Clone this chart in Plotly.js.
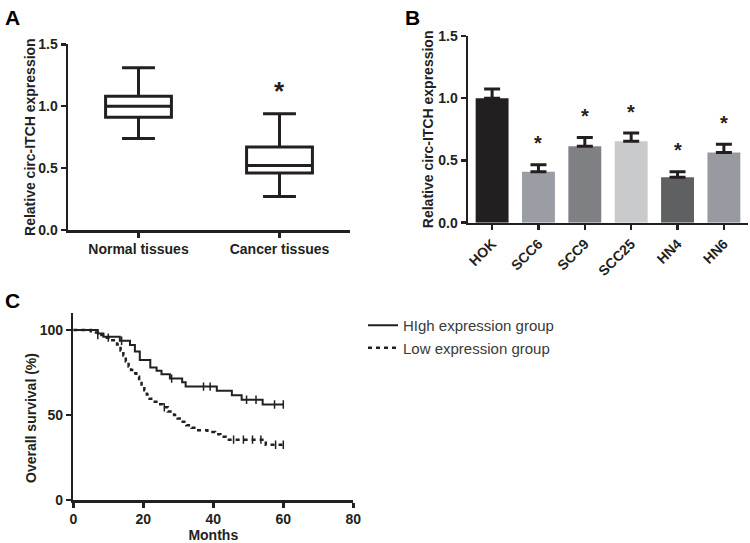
<!DOCTYPE html>
<html>
<head>
<meta charset="utf-8">
<script src="https://cdn.plot.ly/plotly-3.0.1.min.js"></script>
<style>html,body{margin:0;padding:0;background:#fff;}#chart{width:750px;height:543px;}</style>
</head>
<body>
<div id="chart"></div>
<script>
// ---- Panel A: box plot summary values ----
const boxCategories = ["Normal tissues", "Cancer tissues"];
const boxLowerFence = [0.74, 0.27];
const boxQ1 = [0.91, 0.46];
const boxMedian = [1.00, 0.52];
const boxQ3 = [1.08, 0.67];
const boxUpperFence = [1.31, 0.94];
const boxStarY = [null, 1.145];

// ---- Panel B: bar chart ----
const cellLines = ["HOK", "SCC6", "SCC9", "SCC25", "HN4", "HN6"];
const barValues = [1.00, 0.41, 0.615, 0.655, 0.365, 0.565];
const barErrors = [0.075, 0.055, 0.07, 0.065, 0.045, 0.065];
const barColors = ["#231f20", "#9b9da4", "#7f8084", "#c9cacc", "#5f6062", "#989aa1"];
const barStarY = [null, 0.67, 0.89, 0.925, 0.615, 0.835];

// ---- Panel C: Kaplan-Meier curves ----
const highTime = [0, 7.0, 8.6, 13.3, 16.2, 17.6, 19.0, 22.0, 23.8, 25.2, 27.6, 31.1, 32.1, 41.0, 45.3, 48.1, 54.1, 60];
const highSurv = [100, 98, 96, 93.7, 91.2, 87.3, 82.4, 78, 76, 73.9, 71.4, 69.2, 66.7, 64.3, 61.6, 59.0, 56.2, 56.2];
const highCensor = [13.8, 28.1, 37.2, 39.1, 49.5, 52.2, 57.5, 60];
const lowTime = [0, 5, 7, 9, 10.5, 12.5, 13.5, 14.3, 15, 15.8, 16.5, 17.3, 18, 18.8, 19.5, 20.3, 21, 21.8, 22.8, 24.3, 25.5, 27, 28.8, 29.8, 30.8, 32.3, 33.8, 35.3, 38.3, 40.5, 42, 43.5, 55, 60];
const lowSurv = [100, 98.5, 97, 95.5, 94, 91.5, 88, 85, 81.5, 78.5, 76.5, 74.5, 72.5, 70, 67, 64.5, 62, 59.5, 57.8, 56.3, 54.5, 52, 50, 48, 46, 44, 42.5, 41, 40, 38.7, 37.2, 35.5, 32.5, 32.5];
const lowCensor = [7, 10, 26, 45.8, 48.6, 51.2, 53.6, 57.8, 60];
const seriesNames = ["HIgh expression group", "Low expression group"];

function stepValue(times, surv, t) {
  let v = surv[0];
  for (let i = 0; i < times.length; i++) { if (times[i] <= t) v = surv[i]; }
  return v;
}

const DARK = "#231f20";
const FONT = "Liberation Sans, Arial, sans-serif";
const boldTick = {family: FONT, size: 14, color: DARK, weight: "bold"};
const boldTitle = {family: FONT, size: 14, color: DARK, weight: "bold"};

const traces = [
  {
    type: "box", xaxis: "x", yaxis: "y",
    x: boxCategories, q1: boxQ1, median: boxMedian, q3: boxQ3,
    lowerfence: boxLowerFence, upperfence: boxUpperFence,
    fillcolor: "#ffffff", line: {color: DARK, width: 3},
    whiskerwidth: 0.5, showlegend: false, hoverinfo: "skip"
  },
  {
    type: "bar", xaxis: "x2", yaxis: "y2",
    x: cellLines, y: barValues,
    marker: {color: barColors, line: {width: 0}},
    width: 0.71,
    error_y: {type: "data", symmetric: false, array: barErrors,
              arrayminus: barErrors.map(() => 0), color: DARK, thickness: 3, width: 8},
    showlegend: false, hoverinfo: "skip"
  },
  {
    type: "scatter", mode: "lines", xaxis: "x3", yaxis: "y3",
    x: highTime, y: highSurv, line: {shape: "hv", color: DARK, width: 2},
    name: seriesNames[0], legendrank: 1
  },
  {
    type: "scatter", mode: "lines", xaxis: "x3", yaxis: "y3",
    x: lowTime, y: lowSurv, line: {shape: "hv", color: DARK, width: 2.5, dash: "4px,4px"},
    name: seriesNames[1], legendrank: 2
  },
  {
    type: "scatter", mode: "markers", xaxis: "x3", yaxis: "y3",
    x: highCensor, y: highCensor.map(t => stepValue(highTime, highSurv, t)),
    marker: {symbol: "line-ns", size: 6, line: {color: DARK, width: 1.5}},
    showlegend: false, hoverinfo: "skip"
  },
  {
    type: "scatter", mode: "markers", xaxis: "x3", yaxis: "y3",
    x: lowCensor, y: lowCensor.map(t => stepValue(lowTime, lowSurv, t)),
    marker: {symbol: "line-ns", size: 6, line: {color: DARK, width: 1.5}},
    showlegend: false, hoverinfo: "skip"
  }
];

const axisBase = {
  showline: true, linecolor: DARK, linewidth: 2.5, ticks: "outside",
  ticklen: 5, tickwidth: 2.5, tickcolor: DARK, showgrid: false, zeroline: false,
  tickfont: boldTick, fixedrange: true
};

const annotations = [];
boxCategories.forEach((c, i) => {
  if (boxStarY[i] !== null) annotations.push({xref: "x", yref: "y", x: c, y: boxStarY[i], text: "*",
    showarrow: false, font: {family: FONT, size: 26, color: DARK, weight: "bold"}, yanchor: "middle", yshift: -3});
});
cellLines.forEach((c, i) => {
  if (barStarY[i] !== null) annotations.push({xref: "x2", yref: "y2", x: c, y: barStarY[i], text: "*",
    showarrow: false, font: {family: FONT, size: 20, color: DARK, weight: "bold"}, yanchor: "middle", yshift: -4});
});
[["A", 3, 4], ["B", 403, 4], ["C", 3, 287]].forEach(([t, px, py]) => {
  annotations.push({xref: "paper", yref: "paper", x: px / 750, y: 1 - py / 543, xanchor: "left", yanchor: "top",
    text: t, showarrow: false, font: {family: FONT, size: 21, color: "#000", weight: "bold"}});
});
// y-axis title of panel C (centred on the 0-100 span, as in the original)
annotations.push({xref: "paper", yref: "paper", x: 31 / 750, y: 1 - 418 / 543, xanchor: "center", yanchor: "middle",
  text: "Overall survival (%)", textangle: -90, showarrow: false, font: boldTitle});

const layout = {
  width: 750, height: 543, autosize: false,
  margin: {l: 0, r: 0, t: 0, b: 0},
  paper_bgcolor: "#ffffff", plot_bgcolor: "#ffffff",
  font: {family: FONT, color: DARK},
  boxgap: 0.333,
  xaxis: Object.assign({}, axisBase, {domain: [68 / 750, 350 / 750], anchor: "y", type: "category", range: [-0.5, 1.5]}),
  yaxis: Object.assign({}, axisBase, {domain: [1 - 230 / 543, 1 - 44.3 / 543], anchor: "x", range: [0, 1.5],
    tickvals: [0, 0.5, 1.0, 1.5], ticktext: ["0.0", "0.5", "1.0", "1.5"],
    title: {text: "Relative circ-ITCH expression", font: boldTitle, standoff: 0}}),
  xaxis2: Object.assign({}, axisBase, {domain: [468 / 750, 748 / 750], anchor: "y2", type: "category",
    range: [-0.52, 5.52], tickangle: -45}),
  yaxis2: Object.assign({}, axisBase, {domain: [1 - 222.7 / 543, 1 - 36 / 543], anchor: "x2", range: [0, 1.5],
    tickvals: [0, 0.5, 1.0, 1.5], ticktext: ["0.0", "0.5", "1.0", "1.5"],
    title: {text: "Relative circ-ITCH expression", font: boldTitle, standoff: 2}}),
  xaxis3: Object.assign({}, axisBase, {domain: [73.3 / 750, 353.3 / 750], anchor: "y3", range: [0, 80],
    tickvals: [0, 20, 40, 60, 80], title: {text: "Months", font: boldTitle, standoff: 6}}),
  yaxis3: Object.assign({}, axisBase, {domain: [1 - 500 / 543, 1 - 313 / 543], anchor: "x3", range: [0, 110],
    tickvals: [0, 50, 100]}),
  showlegend: true,
  legend: {x: 363 / 750, y: 1 - 309 / 543, xanchor: "left", yanchor: "top", bgcolor: "rgba(0,0,0,0)",
    font: {family: FONT, size: 15, color: "#3a3a3a"}, tracegroupgap: 0, itemclick: false},
  annotations: annotations
};

Plotly.newPlot("chart", traces, layout, {staticPlot: true, displayModeBar: false});
</script>
</body>
</html>
